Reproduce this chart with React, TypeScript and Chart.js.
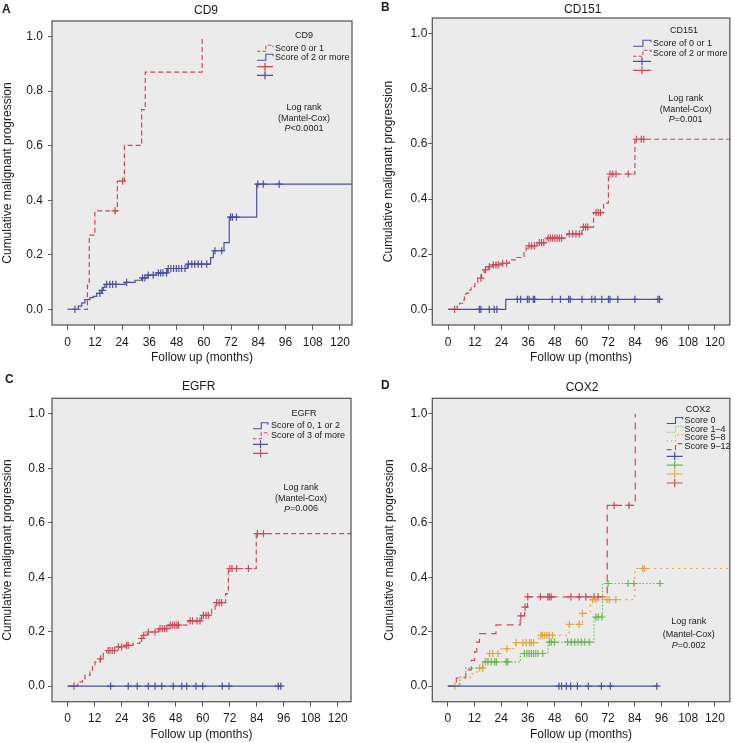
import React, { useEffect, useRef } from 'react';
import { Chart, registerables } from 'chart.js';

Chart.register(...registerables);

const FONT = '"Liberation Sans", Arial, Helvetica, sans-serif';
const BLUE = '#4b4fa6';
const RED = '#cc4a58';
const GREEN = '#66bb4f';
const ORANGE = '#e6a43c';
const PLOT_BG = '#ebebeb';
const FRAME = '#5c5c5c';
const TEXT = '#1a1a1a';

const xTickValues = [0, 12, 24, 36, 48, 60, 72, 84, 96, 108, 120];
const yTickValues = [0, 0.2, 0.4, 0.6, 0.8, 1.0];

// ---------- CD9 ----------
const cd9LowTimes = [0, 8.7, 9.5, 12, 21.9, 25, 32.6, 34.2, 59.3];
const cd9LowLevels = [0, 0.089, 0.272, 0.361, 0.47, 0.601, 0.732, 0.87, 1.0];
const cd9LowCensor = [20.9, 24.2];
const cd9LowEnd: number | null = null;

const cd9HighTimes = [0, 4.7, 6.2, 7.6, 9.8, 11.3, 12.8, 15, 15.7, 16.4, 25.3, 29.7, 32.6, 35.1, 39.2, 43.9, 52.7, 63, 64.2, 68.9, 71.2, 83.3];
const cd9HighLevels = [0, 0.012, 0.024, 0.036, 0.043, 0.048, 0.059, 0.07, 0.081, 0.092, 0.099, 0.107, 0.116, 0.126, 0.134, 0.15, 0.166, 0.19, 0.215, 0.245, 0.338, 0.459];
const cd9HighCensor = [3.2, 14.2, 15.2, 17.2, 18.6, 19.8, 21.3, 26, 33, 34, 35.5, 37.7, 40, 41, 42, 43.6, 44.3, 45.5, 46.7, 47.9, 49, 50.2, 51.7, 53.2, 54.7, 56, 57.5, 59, 61.3, 64.9, 67.9, 71.8, 72.6, 74.4, 83.8, 86.2, 93.2];
const cd9HighEnd: number | null = 130;

// ---------- CD151 ----------
const cd151LowTimes = [0, 25.9];
const cd151LowLevels = [0, 0.036];
const cd151LowCensor = [14, 14.7, 18.5, 20.7, 21.9, 31.1, 32.6, 35.6, 36.4, 38.3, 38.9, 46.8, 50.5, 54.2, 54.9, 60.2, 64.6, 66.1, 69.1, 72.1, 72.8, 76.3, 84, 94.4, 95.1];
const cd151LowEnd: number | null = 96;

const cd151HighTimes = [0, 4, 5.1, 6.5, 7.3, 8, 9, 10.3, 12, 13.3, 15, 16.2, 18, 20, 23.7, 27.4, 30.5, 34.1, 35.1, 36, 40, 44.5, 53.4, 60.2, 65.4, 69.9, 72.1, 84];
const cd151HighLevels = [0, 0.011, 0.022, 0.033, 0.045, 0.058, 0.07, 0.082, 0.097, 0.113, 0.13, 0.143, 0.155, 0.161, 0.167, 0.179, 0.188, 0.209, 0.222, 0.23, 0.242, 0.258, 0.274, 0.298, 0.351, 0.385, 0.491, 0.617];
const cd151HighCensor = [2.9, 14.7, 16.8, 18.5, 20.3, 21.5, 22.5, 24.5, 26.3, 36.3, 37.5, 38.8, 41, 42, 43, 45, 46, 47, 48, 49, 50, 51, 54.5, 56, 57.5, 59, 60.8, 61.8, 62.8, 66.5, 67.5, 68.5, 72.8, 74, 75.5, 81, 84.7, 86.9, 88];
const cd151HighEnd: number | null = 130;

// ---------- EGFR ----------
const egfrLowTimes = [0];
const egfrLowLevels = [0];
const egfrLowCensor = [19.1, 26.9, 30.9, 35.8, 38.8, 41.8, 46.9, 50.7, 52.9, 57, 60, 68.7, 71.7, 93.6, 94.7];
const egfrLowEnd: number | null = 95.1;

const egfrHighTimes = [0, 4.5, 5.5, 6.6, 7.7, 9.9, 11, 12.1, 14.4, 15.8, 17.3, 21.8, 25.5, 29, 32.1, 33.6, 35.4, 40.3, 44.7, 53.6, 59.5, 64, 65.5, 70.2, 71.4, 83.8];
const egfrHighLevels = [0, 0.008, 0.016, 0.028, 0.04, 0.059, 0.075, 0.089, 0.1, 0.12, 0.131, 0.144, 0.15, 0.157, 0.175, 0.187, 0.199, 0.211, 0.224, 0.24, 0.26, 0.282, 0.307, 0.34, 0.432, 0.56];
const egfrHighCensor = [2.8, 14.6, 18, 18.8, 19.8, 20.8, 22.5, 24, 26.2, 26.9, 32.9, 33.8, 35.8, 38.8, 41, 42, 43, 44, 45.5, 46.5, 47.5, 48.5, 49.2, 54.4, 55.5, 57.5, 58.8, 60.3, 61.5, 62.5, 66.2, 67.3, 68.4, 72.1, 73, 75.1, 80.3, 84.3, 87];
const egfrHighEnd: number | null = 130;

// ---------- COX2 ----------
const cox2S0Times = [0];
const cox2S0Levels = [0];
const cox2S0Censor = [49.9, 51.1, 53.2, 55.2, 58.2, 63.1, 69, 73, 93.9];
const cox2S0End: number | null = 94.7;

const cox2S14Times = [0, 5.5, 8, 15.5, 32.6, 45, 65.7, 69.5];
const cox2S14Levels = [0, 0.033, 0.066, 0.089, 0.12, 0.162, 0.254, 0.377];
const cox2S14Censor = [16.8, 18, 19.5, 21, 21.8, 26.2, 26.9, 34.4, 35.5, 36.5, 37.5, 38.5, 39.5, 40.5, 42.6, 45.6, 46.5, 47.9, 53.8, 55.5, 57, 58.5, 60, 61.5, 63.5, 66.5, 67.5, 69.2, 72, 81, 83.6, 95.3];
const cox2S14End: number | null = 95.6;

const cox2S58Times = [0, 5, 10, 13, 16, 17.5, 18.5, 24, 30.5, 41, 54.5, 60.5, 64, 84];
const cox2S58Levels = [0, 0.03, 0.045, 0.066, 0.088, 0.1, 0.12, 0.138, 0.16, 0.187, 0.227, 0.267, 0.318, 0.432];
const cox2S58Censor = [3.1, 14.3, 15.6, 18.8, 20.2, 22.5, 26.5, 30.7, 33.7, 35.2, 36.7, 37.5, 38.5, 41.8, 42.5, 43.5, 44.5, 45.5, 47, 54.6, 59, 60.5, 65, 66.5, 71.5, 72.5, 75.5, 87.5, 88.3];
const cox2S58End: number | null = 130;

const cox2S912Times = [0, 3.8, 8, 10.5, 12, 13, 14.2, 21.6, 32.5, 34.5, 35.8, 71.6, 84.2];
const cox2S912Levels = [0, 0.03, 0.06, 0.095, 0.126, 0.162, 0.193, 0.225, 0.258, 0.29, 0.328, 0.664, 1.0];
const cox2S912Censor = [32.8, 34.7, 35.9, 41.6, 44.9, 45.6, 46.4, 55.3, 59, 62, 65.7, 67.5, 74.7, 81.4];
const cox2S912End: number | null = null;

type Series = {
  label: string;
  times: number[];
  levels: number[];
  censor: number[];
  end: number | null;
  color: string;
  dash: number[];
};

type Panel = {
  letter: string;
  title: string;
  left: number;
  top: number;
  w: number;
  h: number;
  area: { l: number; t: number; r: number; b: number };
  xMin: number;
  xMax: number;
  yTickPad: number;
  yTitlePad: number;
  titlePos: [number, number];
  letterPos: [number, number];
  legendTitle: string;
  legendTitlePos: [number, number];
  rowY: number[];
  markerY: number[];
  sampleX: [number, number];
  textX: number;
  pText: string;
  logPos: [number, number[]];
  series: Series[];
  markerOrder: number[];
};

const DASH_RED = [5, 3];

const panels: Panel[] = [
  {
    letter: 'A', title: 'CD9', left: 0, top: 0, w: 367, h: 370,
    area: { l: 52, t: 21, r: 352, b: 325 }, xMin: -6.9, xMax: 125.3,
    yTickPad: 5, yTitlePad: 0, titlePos: [206, 11], letterPos: [2, 10],
    legendTitle: 'CD9', legendTitlePos: [304, 36], rowY: [48.3, 57.3], markerY: [66.7, 75.3],
    sampleX: [257, 273], textX: 275, pText: '<0.0001', logPos: [304, [107.3, 118.3, 128.7]],
    series: [
      { label: 'Score 0 or 1', times: cd9LowTimes, levels: cd9LowLevels, censor: cd9LowCensor, end: cd9LowEnd, color: RED, dash: DASH_RED },
      { label: 'Score of 2 or more', times: cd9HighTimes, levels: cd9HighLevels, censor: cd9HighCensor, end: cd9HighEnd, color: BLUE, dash: [] },
    ],
    markerOrder: [0, 1],
  },
  {
    letter: 'B', title: 'CD151', left: 368, top: 0, w: 367, h: 370,
    area: { l: 64.3, t: 18, r: 364, b: 325 }, xMin: -7.15, xMax: 126.7,
    yTickPad: 1, yTitlePad: 13, titlePos: [214.7, 10], letterPos: [13, 8],
    legendTitle: 'CD151', legendTitlePos: [316, 30.7], rowY: [43.3, 53.3], markerY: [61.3, 70.3],
    sampleX: [265, 283], textX: 285, pText: '=0.001', logPos: [317.7, [99, 109.3, 119.3]],
    series: [
      { label: 'Score of 0 or 1', times: cd151LowTimes, levels: cd151LowLevels, censor: cd151LowCensor, end: cd151LowEnd, color: BLUE, dash: [] },
      { label: 'Score of 2 or more', times: cd151HighTimes, levels: cd151HighLevels, censor: cd151HighCensor, end: cd151HighEnd, color: RED, dash: DASH_RED },
    ],
    markerOrder: [0, 1],
  },
  {
    letter: 'C', title: 'EGFR', left: 0, top: 370, w: 367, h: 373,
    area: { l: 52, t: 28.3, r: 351, b: 331.7 }, xMin: -6.98, xMax: 125.9,
    yTickPad: 3, yTitlePad: 0, titlePos: [198.7, 16.7], letterPos: [5, 10],
    legendTitle: 'EGFR', legendTitlePos: [304, 43.3], rowY: [55.7, 65.7], markerY: [74.3, 83.3],
    sampleX: [253, 268], textX: 271, pText: '=0.006', logPos: [301, [117.3, 129, 139]],
    series: [
      { label: 'Score of 0, 1 or 2', times: egfrLowTimes, levels: egfrLowLevels, censor: egfrLowCensor, end: egfrLowEnd, color: BLUE, dash: [] },
      { label: 'Score of 3 of more', times: egfrHighTimes, levels: egfrHighLevels, censor: egfrHighCensor, end: egfrHighEnd, color: RED, dash: DASH_RED },
    ],
    markerOrder: [0, 1],
  },
  {
    letter: 'D', title: 'COX2', left: 368, top: 370, w: 367, h: 373,
    area: { l: 64.3, t: 28.3, r: 363.3, b: 331.7 }, xMin: -7.0, xMax: 126.7,
    yTickPad: 1, yTitlePad: 14, titlePos: [214, 17.3], letterPos: [13, 15.8],
    legendTitle: 'COX2', legendTitlePos: [330, 39.3], rowY: [50.5, 59.2, 67.9, 76.6], markerY: [86.3, 95.2, 104, 113],
    sampleX: [298.7, 314.7], textX: 316.5, pText: '=0.002', logPos: [320.7, [252, 264.3, 275.3]],
    series: [
      { label: 'Score 0', times: cox2S0Times, levels: cox2S0Levels, censor: cox2S0Censor, end: cox2S0End, color: BLUE, dash: [] },
      { label: 'Score 1–4', times: cox2S14Times, levels: cox2S14Levels, censor: cox2S14Censor, end: cox2S14End, color: GREEN, dash: [1.5, 2] },
      { label: 'Score 5–8', times: cox2S58Times, levels: cox2S58Levels, censor: cox2S58Censor, end: cox2S58End, color: ORANGE, dash: [2, 4] },
      { label: 'Score 9–12', times: cox2S912Times, levels: cox2S912Levels, censor: cox2S912Censor, end: cox2S912End, color: RED, dash: [7, 5] },
    ],
    markerOrder: [0, 1, 2, 3],
  },
];

function levelAt(times: number[], levels: number[], t: number): number {
  let v = levels[0];
  for (let i = 0; i < times.length; i++) if (times[i] <= t) v = levels[i];
  return v;
}

function stepPoints(s: Series) {
  const pts = s.times.map((t, i) => ({ x: t, y: s.levels[i] }));
  if (s.end !== null) pts.push({ x: s.end, y: s.levels[s.levels.length - 1] });
  return pts;
}

function decorPlugin(p: Panel) {
  return {
    id: 'decor' + p.letter,
    beforeDraw(chart: any) {
      const { ctx, chartArea: a } = chart;
      ctx.save();
      ctx.fillStyle = PLOT_BG;
      ctx.fillRect(a.left, a.top, a.right - a.left, a.bottom - a.top);
      ctx.restore();
    },
    afterDraw(chart: any) {
      const { ctx, chartArea: a } = chart;
      ctx.save();
      // frame
      ctx.strokeStyle = FRAME;
      ctx.lineWidth = 1.3;
      ctx.setLineDash([]);
      ctx.strokeRect(a.left, a.top, a.right - a.left, a.bottom - a.top);

      // title & letter
      ctx.fillStyle = TEXT;
      ctx.textBaseline = 'middle';
      ctx.textAlign = 'center';
      ctx.font = `12px ${FONT}`;
      ctx.fillText(p.title, p.titlePos[0], p.titlePos[1]);
      ctx.textAlign = 'left';
      ctx.font = `bold 12px ${FONT}`;
      ctx.fillText(p.letter, p.letterPos[0], p.letterPos[1]);

      // legend
      ctx.font = `9px ${FONT}`;
      ctx.textAlign = 'center';
      ctx.fillText(p.legendTitle, p.legendTitlePos[0], p.legendTitlePos[1]);
      const [sx0, sx1] = p.sampleX;
      p.series.forEach((s, i) => {
        const y = p.rowY[i];
        ctx.strokeStyle = s.color;
        ctx.lineWidth = 1.1;
        ctx.setLineDash(s.dash.length ? s.dash.map((d) => d * 0.7) : []);
        const xm = sx0 + (sx1 - sx0) * 0.55;
        ctx.beginPath();
        ctx.moveTo(sx0, y + 3);
        ctx.lineTo(xm, y + 3);
        ctx.lineTo(xm, y - 3);
        ctx.lineTo(sx1, y - 3);
        ctx.lineTo(sx1, y - 1);
        ctx.stroke();
        ctx.setLineDash([]);
        ctx.fillStyle = TEXT;
        ctx.textAlign = 'left';
        ctx.fillText(s.label, p.textX, y);
      });
      p.markerOrder.forEach((si, i) => {
        const s = p.series[si];
        const y = p.markerY[i];
        const xc = (sx0 + sx1) / 2;
        ctx.strokeStyle = s.color;
        ctx.lineWidth = 1.2;
        ctx.beginPath();
        ctx.moveTo(sx0, y);
        ctx.lineTo(sx1, y);
        ctx.moveTo(xc, y - 4);
        ctx.lineTo(xc, y + 4);
        ctx.stroke();
      });

      // log rank
      const [lx, lys] = p.logPos;
      ctx.fillStyle = TEXT;
      ctx.textAlign = 'center';
      ctx.font = `9px ${FONT}`;
      ctx.fillText('Log rank', lx, lys[0]);
      ctx.fillText('(Mantel-Cox)', lx, lys[1]);
      ctx.font = `italic 9px ${FONT}`;
      const wP = ctx.measureText('P').width;
      ctx.font = `9px ${FONT}`;
      const wR = ctx.measureText(p.pText).width;
      const start = lx - (wP + wR) / 2;
      ctx.textAlign = 'left';
      ctx.font = `italic 9px ${FONT}`;
      ctx.fillText('P', start, lys[2]);
      ctx.font = `9px ${FONT}`;
      ctx.fillText(p.pText, start + wP, lys[2]);
      ctx.restore();
    },
  };
}

function PanelChart({ p }: { p: Panel }) {
  const ref = useRef<HTMLCanvasElement | null>(null);
  useEffect(() => {
    if (!ref.current) return;
    const datasets: any[] = [];
    p.series.forEach((s) => {
      datasets.push({
        data: stepPoints(s),
        showLine: true,
        stepped: true,
        borderColor: s.color,
        borderDash: s.dash,
        borderWidth: 1.2,
        pointRadius: 0,
        fill: false,
      });
      datasets.push({
        data: s.censor.map((t) => ({ x: t, y: levelAt(s.times, s.levels, t) })),
        showLine: false,
        pointStyle: 'cross',
        pointRadius: 3.6,
        pointBorderWidth: 1.2,
        borderColor: s.color,
        backgroundColor: s.color,
        borderWidth: 1.2,
      });
    });
    const chart = new Chart(ref.current, {
      type: 'scatter',
      data: { datasets },
      options: {
        responsive: false,
        animation: false,
        devicePixelRatio: 1,
        events: [],
        layout: { padding: { left: 0, top: p.area.t, right: p.w - p.area.r, bottom: p.h - p.area.b - 40 } },
        plugins: { legend: { display: false }, tooltip: { enabled: false }, title: { display: false } },
        scales: {
          x: {
            type: 'linear',
            min: p.xMin,
            max: p.xMax,
            afterBuildTicks: (s: any) => { s.ticks = xTickValues.map((v) => ({ value: v })); },
            afterFit: (s: any) => { s.height = 40; },
            grid: { drawOnChartArea: false, drawTicks: true, tickLength: 5, color: FRAME, lineWidth: 1 },
            border: { display: false },
            ticks: { autoSkip: false, maxRotation: 0, padding: 5, color: TEXT, font: { family: FONT, size: 12 }, callback: (v: any) => String(v) },
            title: { display: true, text: 'Follow up (months)', color: TEXT, font: { family: FONT, size: 12 }, padding: { top: 0, bottom: 0 } },
          },
          y: {
            type: 'linear',
            min: -0.057,
            max: 1.057,
            afterBuildTicks: (s: any) => { s.ticks = yTickValues.map((v) => ({ value: v })); },
            afterFit: (s: any) => { s.width = p.area.l; },
            grid: { drawOnChartArea: false, drawTicks: true, tickLength: 4, color: FRAME, lineWidth: 1 },
            border: { display: false },
            ticks: { padding: p.yTickPad, color: TEXT, font: { family: FONT, size: 12 }, callback: (v: any) => Number(v).toFixed(1) },
            title: { display: true, text: 'Cumulative malignant progression', color: TEXT, font: { family: FONT, size: 12 }, padding: { top: p.yTitlePad, bottom: 0 } },
          },
        },
      },
      plugins: [decorPlugin(p)],
    } as any);
    return () => chart.destroy();
  }, [p]);
  return (
    <canvas
      ref={ref}
      width={p.w}
      height={p.h}
      style={{ position: 'absolute', left: p.left, top: p.top, width: p.w, height: p.h }}
    />
  );
}

export default function App() {
  return (
    <div style={{ position: 'absolute', left: 0, top: 0, width: 735, height: 743, background: '#ffffff', overflow: 'hidden' }}>
      {panels.map((p) => (
        <PanelChart key={p.letter} p={p} />
      ))}
    </div>
  );
}
